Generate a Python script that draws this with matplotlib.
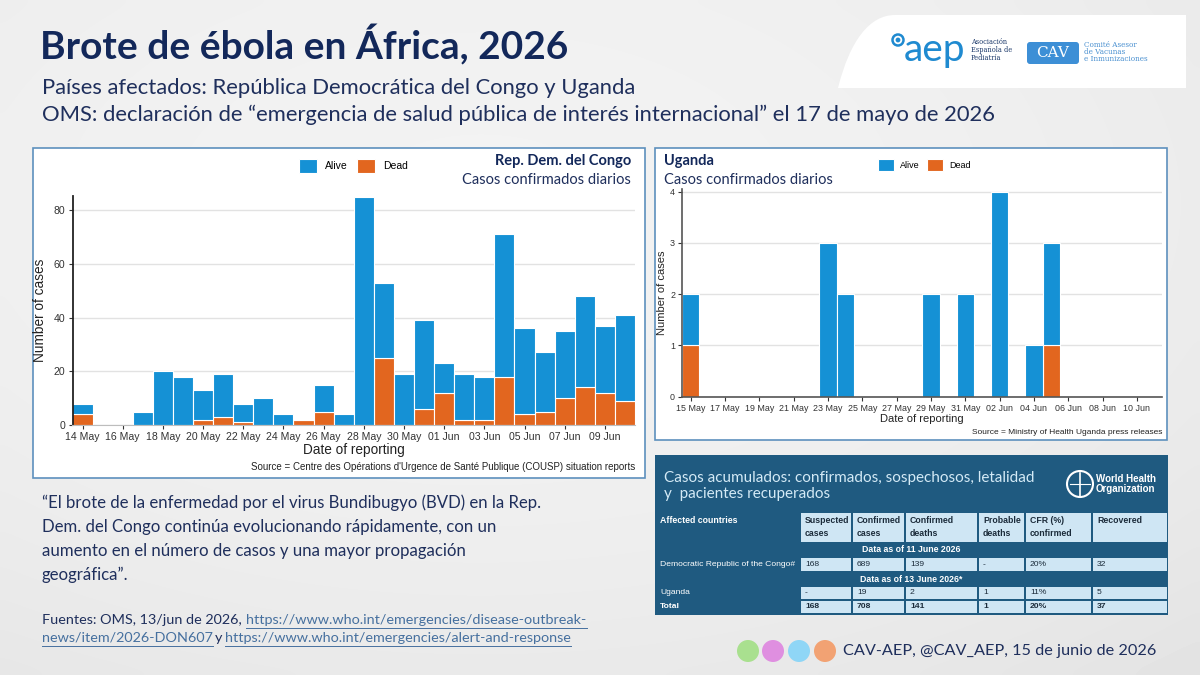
import numpy as np
import pandas as pd
import matplotlib
matplotlib.use("Agg")
import matplotlib.pyplot as plt
import matplotlib.dates as mdates
from matplotlib.patches import Rectangle, Circle, PathPatch, FancyBboxPatch
from matplotlib.path import Path

# ----------------------------------------------------------------------
# data
drc_dates = pd.date_range("2026-05-14", "2026-06-10", freq="D")
drc_alive = [4, 0, 0, 5, 20, 18, 11, 16, 7, 10, 4, 0, 10, 4,
             85, 28, 19, 33, 11, 17, 16, 53, 32, 22, 25, 34, 25, 32]
drc_dead = [4, 0, 0, 0, 0, 0, 2, 3, 1, 0, 0, 2, 5, 0,
            0, 25, 0, 6, 12, 2, 2, 18, 4, 5, 10, 14, 12, 9]

ug_dates = pd.to_datetime(["2026-05-15", "2026-05-23", "2026-05-24", "2026-05-29",
                           "2026-05-31", "2026-06-02", "2026-06-04", "2026-06-05"])
ug_alive = [1, 3, 2, 2, 2, 4, 1, 2]
ug_dead = [1, 0, 0, 0, 0, 0, 0, 1]
ug_ticks = pd.date_range("2026-05-15", "2026-06-10", freq="2D")

tbl_header = ["Affected countries", "Suspected\ncases", "Confirmed\ncases",
              "Confirmed\ndeaths", "Probable\ndeaths", "CFR (%)\nconfirmed", "Recovered"]
tbl_sections = ["Data as of 11 June 2026", "Data as of 13 June 2026*"]
tbl_drc = ["Democratic Republic of the Congo#", "168", "689", "139", "-", "20%", "32"]
tbl_uganda = ["Uganda", "-", "19", "2", "1", "11%", "5"]
tbl_total = ["Total", "168", "708", "141", "1", "20%", "37"]
# ----------------------------------------------------------------------

NAVY = "#13285a"
TEXT = "#1f2f5c"
BLUE = "#1591d5"
ORANGE = "#e2661f"
LINK = "#46709f"
SLIDE_FONT = "Lato"
CHART_FONT = "Liberation Sans"
TBL_DARK = "#1f5a80"
TBL_LIGHT = "#cfe6f4"

W, H = 1200, 675
fig = plt.figure(figsize=(12, 6.75), dpi=100)
bg = fig.add_axes([0, 0, 1, 1])
bg.set_xlim(0, W)
bg.set_ylim(H, 0)
bg.axis("off")

# soft grey slide background
yy, xx = np.mgrid[0:1:68j, 0:1:120j]
shade = 0.95 - 0.07 * ((xx - 0.4) ** 2 + (yy - 0.3) ** 2)
bg.imshow(shade, cmap="gray", vmin=0, vmax=1, extent=(0, W, H, 0),
          aspect="auto", zorder=0, interpolation="bicubic")


def px_axes(x0, y0, x1, y1):
    return fig.add_axes([x0 / W, 1 - y1 / H, (x1 - x0) / W, (y1 - y0) / H])


# --- header ---
bg.text(40, 45, "Brote de ébola en África, 2026", fontsize=28, fontweight="bold",
        color=NAVY, family=SLIDE_FONT, va="center")
bg.text(42, 88, "Países afectados: República Democrática del Congo y Uganda",
        fontsize=15.8, color=TEXT, family=SLIDE_FONT, va="center")
bg.text(42, 115, "OMS: declaración de “emergencia de salud pública de interés "
        "internacional” el 17 de mayo de 2026",
        fontsize=15.8, color=TEXT, family=SLIDE_FONT, va="center")

# logo area
logo = Path([(838, 88), (850, 40), (870, 15), (895, 15), (1186, 15), (1186, 88), (838, 88)],
            [Path.MOVETO, Path.CURVE4, Path.CURVE4, Path.CURVE4, Path.LINETO, Path.LINETO,
             Path.CLOSEPOLY])
bg.add_patch(PathPatch(logo, fc="white", ec="none", zorder=1))
bg.add_patch(Circle((898, 40), 5.5, fc="none", ec="#1f8ad0", lw=1.8, zorder=2))
bg.add_patch(Circle((898, 40), 2.4, fc="#1f8ad0", ec="none", zorder=2))
bg.text(904, 50, "aep", fontsize=28, color="#1f8ad0", family=SLIDE_FONT,
        va="center", zorder=2)
bg.text(971, 50, "Asociación\nEspañola de\nPediatría", fontsize=4.8, color="#1d3a6b",
        family="DejaVu Serif", va="center", linespacing=0.95, zorder=2)
bg.add_patch(FancyBboxPatch((1027, 42), 52, 22, boxstyle="round,pad=0,rounding_size=3",
                            fc="#3d8fd6", ec="none", zorder=2))
bg.text(1053, 53, "CAV", fontsize=11, color="white", family="DejaVu Serif",
        ha="center", va="center", zorder=3)
bg.text(1084, 52, "Comité Asesor\nde Vacunas\ne Inmunizaciones", fontsize=5.2, color="#4a90d0",
        family="DejaVu Serif", va="center", linespacing=0.9, zorder=2)

# --- panel frames ---
bg.add_patch(Rectangle((33, 148), 612, 330, fc="white", ec="#5d90bd", lw=1.2, zorder=1))
bg.add_patch(Rectangle((655, 148), 512, 292, fc="white", ec="#5d90bd", lw=1.2, zorder=1))


def style_chart(ax, tick_fs, spine_left, spine_bottom):
    for s in ("top", "right"):
        ax.spines[s].set_visible(False)
    ax.spines["left"].set_color(spine_left[0])
    ax.spines["left"].set_linewidth(spine_left[1])
    ax.spines["bottom"].set_color(spine_bottom[0])
    ax.spines["bottom"].set_linewidth(spine_bottom[1])
    ax.spines["bottom"].set_zorder(5)
    ax.spines["left"].set_zorder(5)
    ax.set_facecolor("white")
    ax.grid(axis="y", color="#e2e2e2", lw=1, zorder=0)
    ax.set_axisbelow(True)
    ax.tick_params(labelsize=tick_fs, colors="#333333", length=3, width=0.8, pad=2)
    for lab in ax.get_xticklabels() + ax.get_yticklabels():
        lab.set_family(CHART_FONT)


# --- DRC chart ---
ax1 = px_axes(72.5, 195.8, 635, 425)
x1 = mdates.date2num(drc_dates)
b_dead = ax1.bar(x1, drc_dead, width=1.0, color=ORANGE, edgecolor="white", lw=0.8, zorder=3)
b_alive = ax1.bar(x1, drc_alive, bottom=drc_dead, width=1.0, color=BLUE,
                  edgecolor="white", lw=0.8, zorder=3)
ax1.set_xlim(x1[0] - 0.5, x1[-1] + 0.5)
ax1.set_ylim(0, 85.3)
ax1.set_yticks([0, 20, 40, 60, 80])
ax1.set_xticks(x1[::2])
ax1.set_xticklabels([d.strftime("%d %b") for d in drc_dates[::2]])
style_chart(ax1, 7.6, ("#222222", 1.3), ("#bdbdbd", 0.8))
ax1.set_xlabel("Date of reporting", fontsize=9.8, family=CHART_FONT, color="#222222", labelpad=1)
ax1.set_ylabel("Number of cases", fontsize=9.8, family=CHART_FONT, color="#222222", labelpad=5)
ax1.legend([b_alive, b_dead], ["Alive", "Dead"], ncol=2, loc="center",
           bbox_to_anchor=(0.5, 1.13), frameon=False,
           handlelength=1.7, handleheight=1.7, handletextpad=0.8,
           columnspacing=0.9, borderpad=0, prop={"family": CHART_FONT, "size": 7.5})

bg.text(631, 161, "Rep. Dem. del Congo", fontsize=10.5, fontweight="bold", color=NAVY,
        family=SLIDE_FONT, ha="right", va="center", zorder=2)
bg.text(631, 180, "Casos confirmados diarios", fontsize=10.5, color=TEXT,
        family=SLIDE_FONT, ha="right", va="center", zorder=2)
bg.text(635, 467, "Source = Centre des Opérations d'Urgence de Santé Publique (COUSP) "
        "situation reports", fontsize=7, color="#222222", family=CHART_FONT,
        ha="right", va="center", zorder=2)

# --- Uganda chart ---
ax2 = px_axes(682, 189.1, 1162, 396.7)
x2 = mdates.date2num(ug_dates)
start = mdates.date2num(ug_ticks[0])
u_dead = ax2.bar(x2, ug_dead, width=1.0, color=ORANGE, edgecolor="white", lw=0.8, zorder=3)
u_alive = ax2.bar(x2, ug_alive, bottom=ug_dead, width=1.0, color=BLUE,
                  edgecolor="white", lw=0.8, zorder=3)
ax2.set_xlim(start - 0.5, start + 27.46)
ax2.set_ylim(0, 4.05)
ax2.set_yticks([0, 1, 2, 3, 4])
ax2.set_xticks(mdates.date2num(ug_ticks))
ax2.set_xticklabels([d.strftime("%d %b") for d in ug_ticks])
style_chart(ax2, 6.4, ("#555555", 1.2), ("#555555", 1.2))
ax2.set_xlabel("Date of reporting", fontsize=8, family=CHART_FONT, color="#222222", labelpad=1)
ax2.set_ylabel("Number of cases", fontsize=8, family=CHART_FONT, color="#222222", labelpad=2)
ax2.legend([u_alive, u_dead], ["Alive", "Dead"], ncol=2, loc="center",
           bbox_to_anchor=(0.505, 1.116), frameon=False,
           handlelength=1.8, handleheight=1.8, handletextpad=0.7,
           columnspacing=0.8, borderpad=0, prop={"family": CHART_FONT, "size": 6.5})

bg.text(664, 161, "Uganda", fontsize=10.5, fontweight="bold", color=NAVY,
        family=SLIDE_FONT, va="center", zorder=2)
bg.text(664, 180, "Casos confirmados diarios", fontsize=10.5, color=TEXT,
        family=SLIDE_FONT, va="center", zorder=2)
bg.text(1162, 432, "Source = Ministry of Health Uganda press releases", fontsize=6,
        color="#222222", family=CHART_FONT, ha="right", va="center", zorder=2)

# --- WHO table ---
col_edges = [655, 800, 852, 905, 978, 1025, 1092, 1168]
bg.add_patch(Rectangle((655, 455), 513, 160, fc=TBL_DARK, ec="none", zorder=1))
bg.text(664, 486, "Casos acumulados: confirmados, sospechosos, letalidad\n"
        "y  pacientes recuperados", fontsize=11, color="#d4eaf6", family=SLIDE_FONT,
        va="center", linespacing=1.2, zorder=2)
bg.add_patch(Circle((1080, 484), 13, fc="none", ec="white", lw=1.5, zorder=2))
bg.plot([1080, 1080], [473, 496], color="white", lw=1.2, zorder=2)
bg.plot([1070, 1090], [484, 484], color="white", lw=0.8, zorder=2)
bg.text(1096, 484, "World Health\nOrganization", fontsize=7, fontweight="bold",
        color="white", family=CHART_FONT, va="center", linespacing=1.0, zorder=2)


def table_row(vals, y0, y1, bold=False, header=False):
    for i, v in enumerate(vals):
        cx0, cx1 = col_edges[i], col_edges[i + 1]
        if i > 0:
            bg.add_patch(Rectangle((cx0 + 1, y0 + 1), cx1 - cx0 - 2, y1 - y0 - 2,
                                   fc=TBL_LIGHT, ec="none", zorder=2))
        col = "white" if i == 0 else "#1b2b3a"
        fw = "bold" if (bold or header) else "normal"
        if header:
            bg.text(cx0 + 5, y0 + 4, v, fontsize=6.3, fontweight="bold", color=col,
                    family=CHART_FONT, va="top", linespacing=1.6, zorder=3)
        else:
            bg.text(cx0 + 5, (y0 + y1) / 2, v, fontsize=6.1, fontweight=fw, color=col,
                    family=CHART_FONT, va="center", zorder=3)


def section_row(label, y0, y1):
    bg.text((col_edges[0] + col_edges[-1]) / 2, (y0 + y1) / 2, label, fontsize=6.3,
            fontweight="bold", color="white", family=CHART_FONT, ha="center",
            va="center", zorder=3)


table_row(tbl_header, 512, 543, header=True)
section_row(tbl_sections[0], 543, 557)
table_row(tbl_drc, 557, 572)
section_row(tbl_sections[1], 572, 586)
table_row(tbl_uganda, 586, 600)
table_row(tbl_total, 600, 614, bold=True)

# --- quote and sources ---
bg.text(42, 539, "“El brote de la enfermedad por el virus Bundibugyo (BVD) en la Rep.\n"
        "Dem. del Congo continúa evolucionando rápidamente, con un\n"
        "aumento en el número de casos y una mayor propagación\ngeográfica”.",
        fontsize=12.1, color=TEXT, family=SLIDE_FONT, va="center", linespacing=1.6)

renderer = fig.canvas.get_renderer()
inv = bg.transData.inverted()


def put(x, y, s, color, link=False):
    t = bg.text(x, y, s, fontsize=10.4, color=color, family=SLIDE_FONT, va="center")
    bb = t.get_window_extent(renderer)
    xe = inv.transform((bb.x1, bb.y0))[0]
    if link:
        bg.plot([x, xe], [y + 7.5, y + 7.5], color=color, lw=0.7)
    return xe


xe = put(42, 620, "Fuentes: OMS, 13/jun de 2026, ", TEXT)
put(xe + 1, 620, "https://www.who.int/emergencies/disease-outbreak-", LINK, link=True)
xe = put(42, 638, "news/item/2026-DON607", LINK, link=True)
xe = put(xe + 2, 638, "y", TEXT)
put(xe + 3, 638, "https://www.who.int/emergencies/alert-and-response", LINK, link=True)

# --- footer ---
for cx, c in zip([748, 773, 799, 825], ["#a9e08f", "#df8fe0", "#8fd6f6", "#f2a273"]):
    bg.add_patch(Circle((cx, 651), 11, fc=c, ec="none", zorder=2))
bg.text(843, 651, "CAV-AEP, @CAV_AEP, 15 de junio de 2026", fontsize=11.7, color=TEXT,
        family=SLIDE_FONT, va="center")

fig.savefig("out.png", dpi=100)
